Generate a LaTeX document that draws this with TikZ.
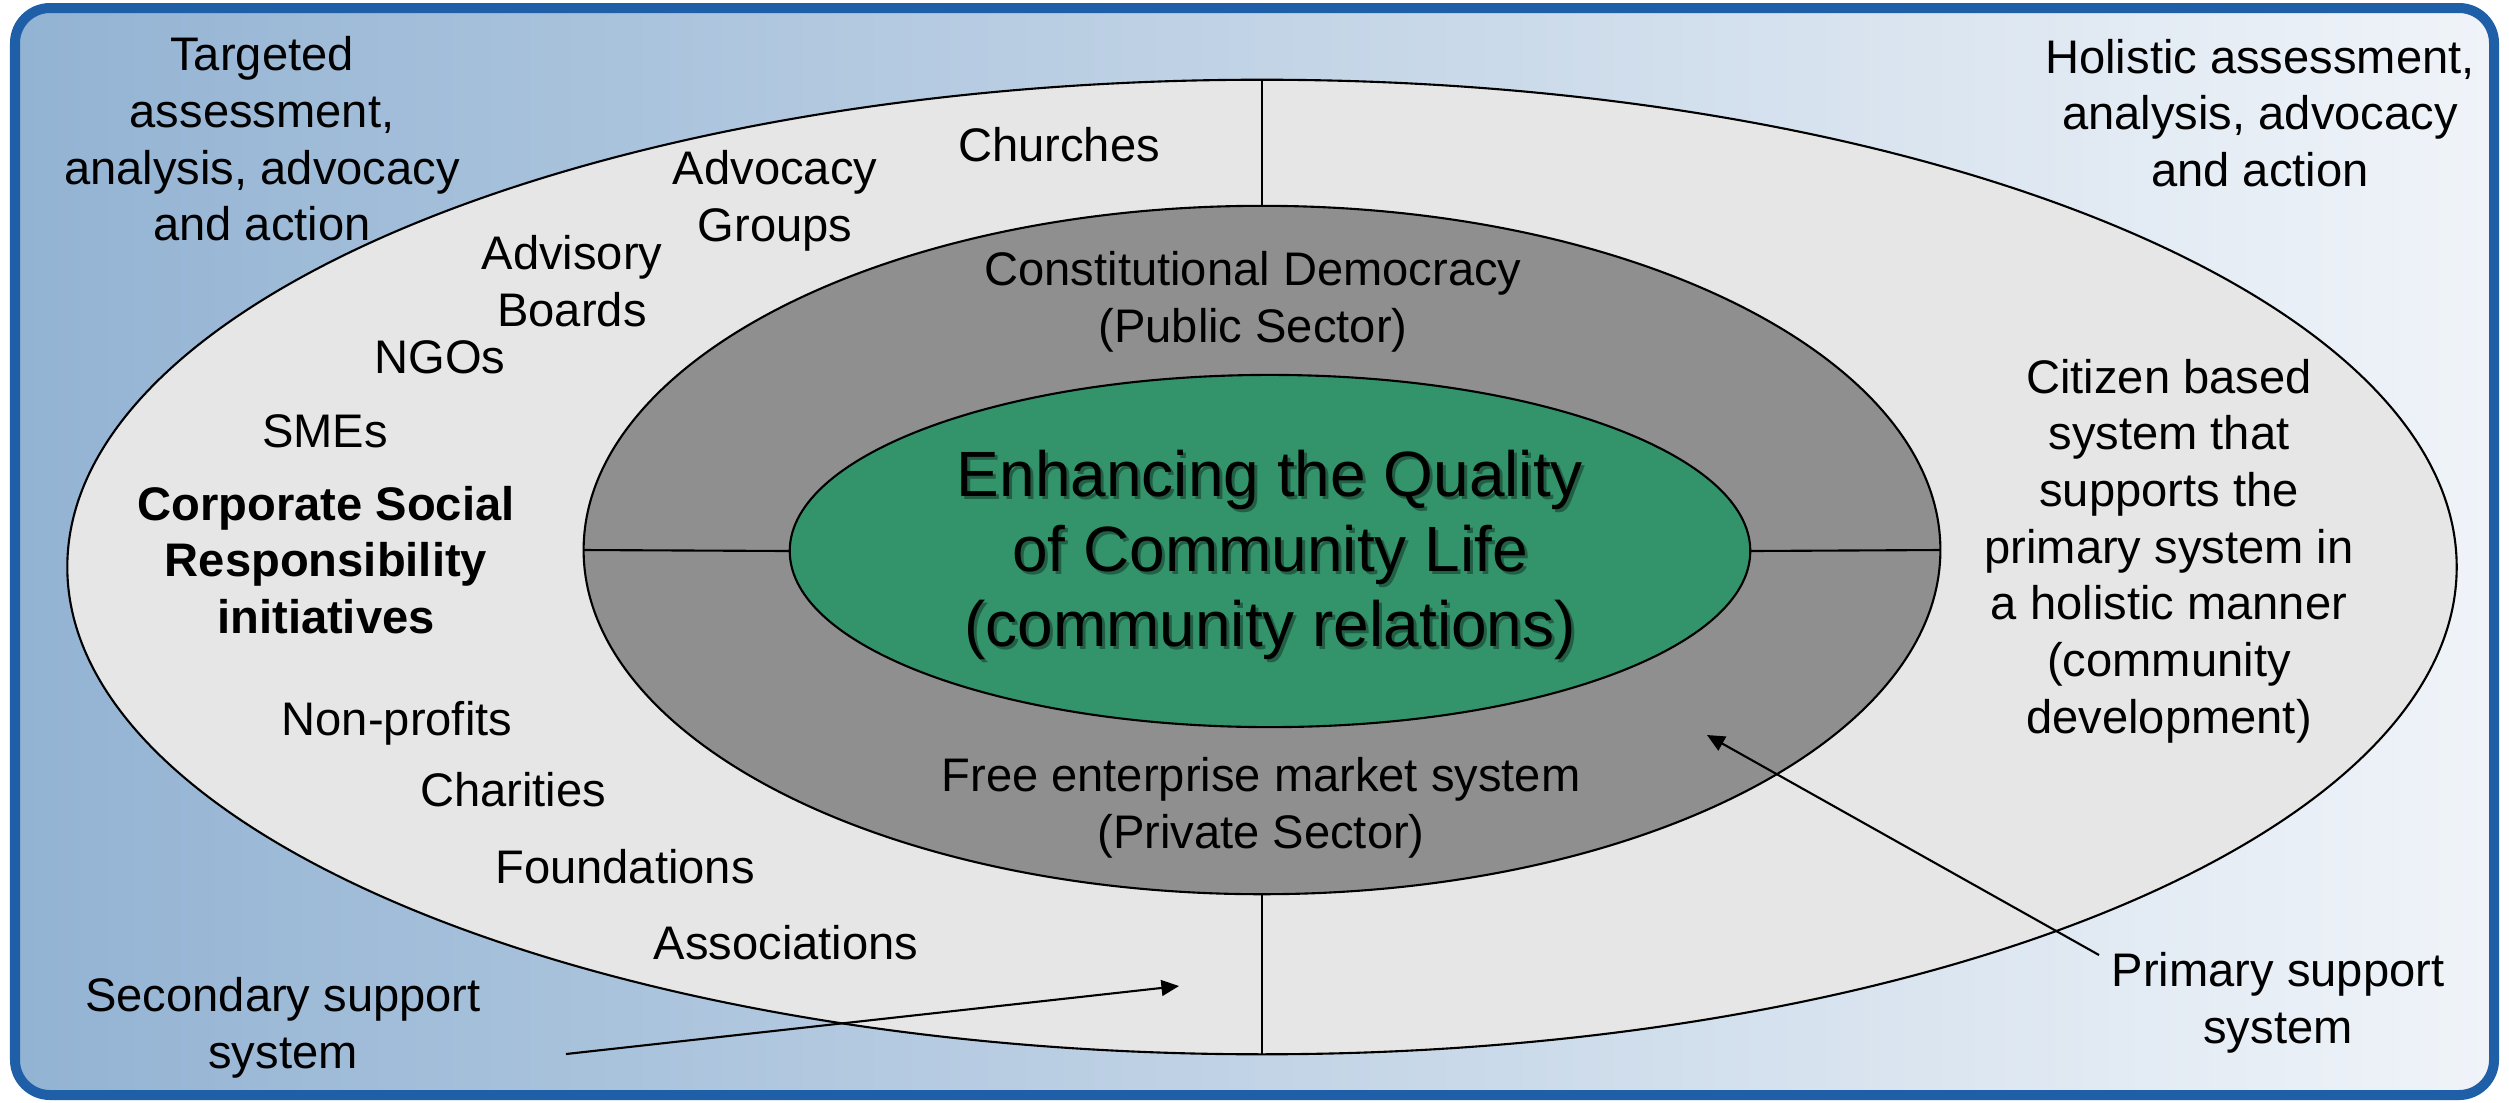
\documentclass[tikz,border=0pt]{standalone}
\usepackage{fontspec}
\setmainfont{Liberation Sans}
\usetikzlibrary{shapes.geometric,arrows.meta}
\definecolor{bordercol}{HTML}{1F5FA8}
\definecolor{bgleft}{HTML}{93B3D3}
\definecolor{bgright}{HTML}{F0F4F9}
\definecolor{outerfill}{HTML}{E6E6E6}
\definecolor{midfill}{HTML}{8F8F8F}
\definecolor{greenfill}{HTML}{33946B}
\begin{document}
\begin{tikzpicture}[x=0.01cm,y=-0.01cm,
  ring/.style={ellipse, draw=black, line width=0.6pt, inner sep=0pt, outer sep=0pt},
  lbl/.style={font=\fontsize{13.4}{16.1}\selectfont, align=center, inner sep=0pt, text=black},
  boldlbl/.style={lbl, font=\fontsize{13.4}{16.1}\selectfont\bfseries},
  bigtxt/.style={font=\fontsize{18.2}{21.4}\selectfont, align=center, inner sep=0pt},
  conn/.style={draw=black, line width=0.6pt},
  arr/.style={conn, -{Triangle[length=5pt,width=4.5pt]}}]

\fill[white] (0,0) rectangle (2509,1102);
\useasboundingbox (0,0) rectangle (2509,1102);
\draw[line width=0.1cm, draw=bordercol, rounded corners=0.35cm, left color=bgleft, right color=bgright] (15,8) rectangle (2494,1095);

% rings
\node[ring, fill=outerfill, minimum width=23.88cm, minimum height=9.74cm] (outer) at (1262,567) {};
\node[ring, fill=midfill, minimum width=13.56cm, minimum height=6.88cm] (mid) at (1262,550) {};
\node[ring, fill=greenfill, minimum width=9.6cm, minimum height=3.52cm] (core) at (1270,551) {};

\draw[conn] (outer.north) -- (mid.north);
\draw[conn] (mid.south) -- (outer.south);
\draw[conn] (mid.west) -- (core.west);
\draw[conn] (core.east) -- (mid.east);

% central text with shadow
\node[bigtxt, text=black, opacity=0.35] (coreshadow) at (1273,558) {Enhancing the Quality\\of Community Life\\(community relations)};
\node[bigtxt, text=black] (coretxt) at (1270,555) {Enhancing the Quality\\of Community Life\\(community relations)};

% sector labels
\node[lbl] (public) at (1253,302) {Constitutional Democracy\\(Public Sector)};
\node[lbl] (private) at (1261,808) {Free enterprise market system\\(Private Sector)};

% left list
\node[lbl] (churches) at (1059,145) {Churches};
\node[lbl] (advocacy) at (775,201) {Advocacy\\Groups};
\node[lbl] (advisory) at (572,281) {Advisory\\Boards};
\node[lbl] (ngos) at (440,357) {NGOs};
\node[lbl] (smes) at (325,431) {SMEs};
\node[boldlbl] (csr) at (326,560) {Corporate Social\\Responsibility\\initiatives};
\node[lbl] (nonprofits) at (397,723) {Non-profits};
\node[lbl] (charities) at (513,790) {Charities};
\node[lbl] (foundations) at (625,867) {Foundations};
\node[lbl] (associations) at (786,943) {Associations};

% corner texts
\node[lbl] (targeted) at (262,139) {Targeted\\assessment,\\analysis, advocacy\\and action};
\node[lbl] (holistic) at (2260,113) {Holistic assessment,\\analysis, advocacy\\and action};
\node[lbl] (citizen) at (2169,551) {Citizen based\\system that\\supports the\\primary system in\\a holistic manner\\(community\\development)};
\node[lbl] (secondary) at (283,1028) {Secondary support\\system};
\node[lbl] (primary) at (2278,1003) {Primary support\\system};

% arrows
\coordinate (secstart) at (566,1054);
\coordinate (sectip) at (1179,986);
\draw[arr] (secstart) -- (sectip);
\coordinate (primstart) at (2099,955);
\coordinate (primtip) at (1707,735);
\draw[arr] (primstart) -- (primtip);
\end{tikzpicture}
\end{document}
